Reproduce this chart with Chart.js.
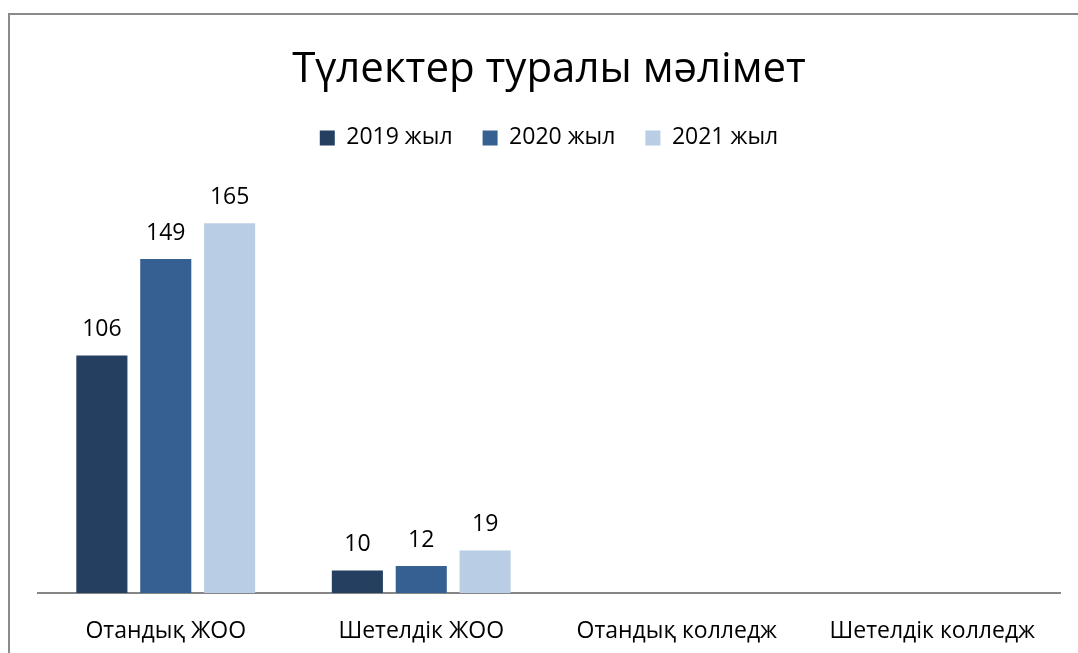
<!DOCTYPE html>
<html>
<head>
<meta charset="utf-8">
<script src="https://cdn.jsdelivr.net/npm/chart.js@4"></script>
<style>
  body { margin: 0; background: #fff; }
  #frame { position: absolute; left: 8px; top: 13px; width: 1200px; height: 800px;
           border-left: 2px solid #8a8a8a; border-top: 2px solid #8a8a8a; }
  #chart { position: absolute; left: 0; top: 0; }
</style>
</head>
<body>
<div id="frame"></div>
<canvas id="chart" width="1078" height="653"></canvas>
<script>
// --- data ---
const categories = ['Отандық ЖОО', 'Шетелдік ЖОО', 'Отандық колледж', 'Шетелдік колледж'];
const seriesNames = ['2019 жыл', '2020 жыл', '2021 жыл'];
const values2019 = [106, 10, null, null];
const values2020 = [149, 12, null, null];
const values2021 = [165, 19, null, null];
const colors = ['#243F60', '#366092', '#B9CDE5'];

Chart.defaults.font.family = "'Open Sans', sans-serif";
Chart.defaults.color = '#000';

// value labels on top of the bars
const barLabels = {
    id: 'barLabels',
    afterDatasetsDraw(chart) {
        const ctx = chart.ctx;
        ctx.save();
        ctx.font = "23px 'Open Sans', sans-serif";
        ctx.fillStyle = '#000';
        ctx.textAlign = 'center';
        ctx.textBaseline = 'middle';
        chart.data.datasets.forEach((ds, i) => {
            chart.getDatasetMeta(i).data.forEach((bar, j) => {
                const v = ds.data[j];
                if (v == null) return;
                ctx.fillText(v, bar.x, bar.y - 26);
            });
        });
        ctx.restore();
    }
};

document.addEventListener('DOMContentLoaded', function(){
    const allValues = [values2019, values2020, values2021];
    new Chart(document.getElementById('chart'), {
        type: 'bar',
        data: {
            labels: categories,
            datasets: seriesNames.map((name, i) => ({
                label: name,
                data: allValues[i],
                backgroundColor: colors[i],
                borderWidth: 0,
                categoryPercentage: 0.75,
                barPercentage: 0.8
            }))
        },
        options: {
            responsive: false,
            animation: false,
            layout: { padding: { left: 38, right: 18, top: 0, bottom: 0 } },
            plugins: {
                title: {
                    display: true,
                    text: 'Түлектер туралы мәлімет',
                    font: { size: 42, weight: 'normal' },
                    color: '#000',
                    padding: { top: 45, bottom: 1 }
                },
                legend: {
                    labels: {
                        boxWidth: 15,
                        boxHeight: 15,
                        padding: 30,
                        font: { size: 23 },
                        color: '#000'
                    }
                },
                tooltip: { enabled: false }
            },
            scales: {
                x: {
                    grid: { display: false, drawTicks: false },
                    border: { display: true, color: '#868686', width: 2 },
                    ticks: { padding: 25, font: { size: 23 }, color: '#000' },
                    afterFit: s => { s.height = 60; }
                },
                y: {
                    display: false,
                    min: 0,
                    max: 193.5
                }
            }
        },
        plugins: [barLabels]
    });
});
</script>
</body>
</html>
